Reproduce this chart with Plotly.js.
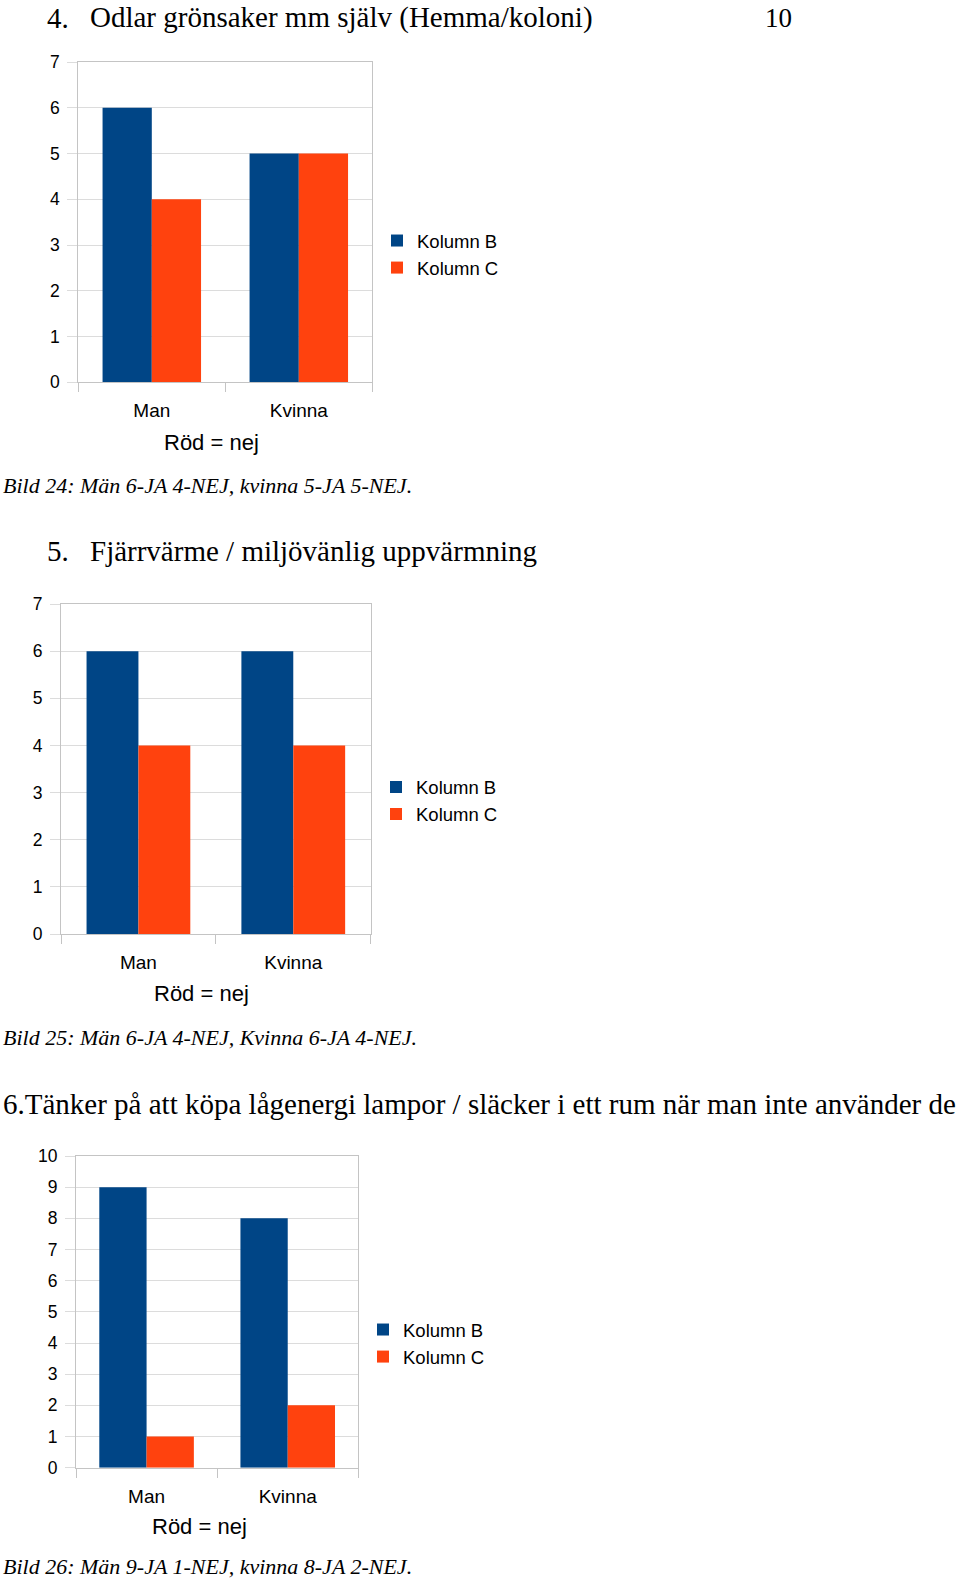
<!DOCTYPE html>
<html>
<head>
<meta charset="utf-8">
<script src="https://cdn.plot.ly/plotly-3.0.1.min.js"></script>
<style>
html, body { margin: 0; padding: 0; background: #ffffff; }
#chart { width: 960px; height: 1580px; }
</style>
</head>
<body>
<div id="chart"></div>
<script>
// ---- data ----
const categories = ["Man", "Kvinna"];
const seriesNames = ["Kolumn B", "Kolumn C"];

const chart1KolumnB = [6, 5];
const chart1KolumnC = [4, 5];
const chart2KolumnB = [6, 6];
const chart2KolumnC = [4, 4];
const chart3KolumnB = [9, 8];
const chart3KolumnC = [1, 2];

const chart1YMax = 7;
const chart2YMax = 7;
const chart3YMax = 10;

const xAxisTitle = "Röd = nej";

const heading1Num = "4.";
const heading1Text = "Odlar grönsaker mm själv (Hemma/koloni)";
const pageNumber = "10";
const caption1 = "Bild 24: Män 6-JA 4-NEJ, kvinna 5-JA 5-NEJ.";
const heading2Num = "5.";
const heading2Text = "Fjärrvärme / miljövänlig uppvärmning";
const caption2 = "Bild 25: Män 6-JA 4-NEJ, Kvinna 6-JA 4-NEJ.";
const heading3Text = "6.Tänker på att köpa lågenergi lampor / släcker i ett rum när man inte använder de";
const caption3 = "Bild 26: Män 9-JA 1-NEJ, kvinna 8-JA 2-NEJ.";

// ---- styling / geometry ----
const W = 960, H = 1580;
const px = p => p / W;
const py = p => 1 - p / H;

const BLUE = "#004586";
const ORANGE = "#ff420e";
const GRID = "#dcdcdc";
const LINE = "#c4c4c4";
const SANS = "Liberation Sans, Arial, sans-serif";
const SERIF = "Liberation Serif, Times New Roman, serif";

const boxes = [
  { x0: 78.3, x1: 372.3, y0: 62, y1: 382.3, ymax: chart1YMax, legX: 377, legY: 254.5, titleX: 211.5, titleY: 442.5 },
  { x0: 61, x1: 370.7, y0: 604, y1: 934, ymax: chart2YMax, legX: 376, legY: 801, titleX: 201.5, titleY: 993.5 },
  { x0: 76, x1: 358.3, y0: 1156, y1: 1467.7, ymax: chart3YMax, legX: 363, legY: 1343.5, titleX: 199, titleY: 1526.5 }
];

const seriesData = [
  [chart1KolumnB, chart1KolumnC],
  [chart2KolumnB, chart2KolumnC],
  [chart3KolumnB, chart3KolumnC]
];

const traces = [];
seriesData.forEach((pair, i) => {
  const sfx = i === 0 ? "" : String(i + 1);
  pair.forEach((vals, j) => {
    traces.push({
      type: "bar",
      x: categories,
      y: vals,
      name: seriesNames[j],
      xaxis: "x" + sfx,
      yaxis: "y" + sfx,
      legend: "legend" + sfx,
      marker: { color: j === 0 ? BLUE : ORANGE, line: { width: 0 } },
      hoverinfo: "skip"
    });
  });
});

const layout = {
  width: W,
  height: H,
  margin: { l: 0, r: 0, t: 0, b: 0 },
  paper_bgcolor: "#ffffff",
  plot_bgcolor: "#ffffff",
  barmode: "group",
  bargap: 0.33,
  bargroupgap: 0,
  showlegend: true,
  font: { family: SANS, color: "#000000" },
  annotations: []
};

function addText(text, xPix, yPix, size, family, xanchor) {
  layout.annotations.push({
    text: text,
    xref: "paper", yref: "paper",
    x: px(xPix), y: py(yPix),
    xanchor: xanchor || "left",
    yanchor: "middle",
    showarrow: false,
    font: { family: family, size: size, color: "#000000" }
  });
}

boxes.forEach((b, i) => {
  const sfx = i === 0 ? "" : String(i + 1);
  layout["xaxis" + sfx] = {
    domain: [px(b.x0), px(b.x1)],
    anchor: "y" + sfx,
    type: "category",
    range: [-0.5, 1.5],
    tickson: "boundaries",
    ticks: "outside",
    ticklen: 9,
    tickcolor: LINE,
    tickwidth: 1,
    showline: true,
    linecolor: LINE,
    linewidth: 1,
    mirror: true,
    showgrid: false,
    zeroline: false,
    ticklabelstandoff: 11,
    tickfont: { family: SANS, size: 19, color: "#000000" },
    fixedrange: true
  };
  layout["yaxis" + sfx] = {
    domain: [py(b.y1), py(b.y0)],
    anchor: "x" + sfx,
    range: [0, b.ymax],
    tick0: 0,
    dtick: 1,
    showgrid: true,
    gridcolor: GRID,
    gridwidth: 1,
    ticks: "outside",
    ticklen: 10,
    tickcolor: GRID,
    showline: true,
    linecolor: LINE,
    linewidth: 1,
    mirror: true,
    zeroline: false,
    ticklabelstandoff: 4,
    tickfont: { family: SANS, size: 17.5, color: "#000000" },
    fixedrange: true
  };
  layout["legend" + sfx] = {
    x: px(b.legX),
    xanchor: "left",
    y: py(b.legY),
    yanchor: "middle",
    bgcolor: "rgba(0,0,0,0)",
    borderwidth: 0,
    font: { family: SANS, size: 18.5, color: "#000000" },
    traceorder: "normal",
    itemclick: false,
    itemdoubleclick: false
  };
  // x-axis title ("Röd = nej"), placed like the original chart
  addText(xAxisTitle, b.titleX, b.titleY, 22, SANS, "center");
});

addText(heading1Num, 44.5, 18, 29, SERIF);
addText(heading1Text, 88.3, 18, 29, SERIF);
addText(pageNumber, 762.5, 18, 27, SERIF);
addText("<i>" + caption1 + "</i>", 1, 485, 22, SERIF);
addText(heading2Num, 44.5, 551, 29, SERIF);
addText(heading2Text, 88, 551, 29, SERIF);
addText("<i>" + caption2 + "</i>", 1, 1037, 22, SERIF);
addText(heading3Text, 1, 1104, 29, SERIF);
addText("<i>" + caption3 + "</i>", 1, 1566, 22, SERIF);

Plotly.newPlot("chart", traces, layout, { displayModeBar: false, staticPlot: true });
</script>
</body>
</html>
